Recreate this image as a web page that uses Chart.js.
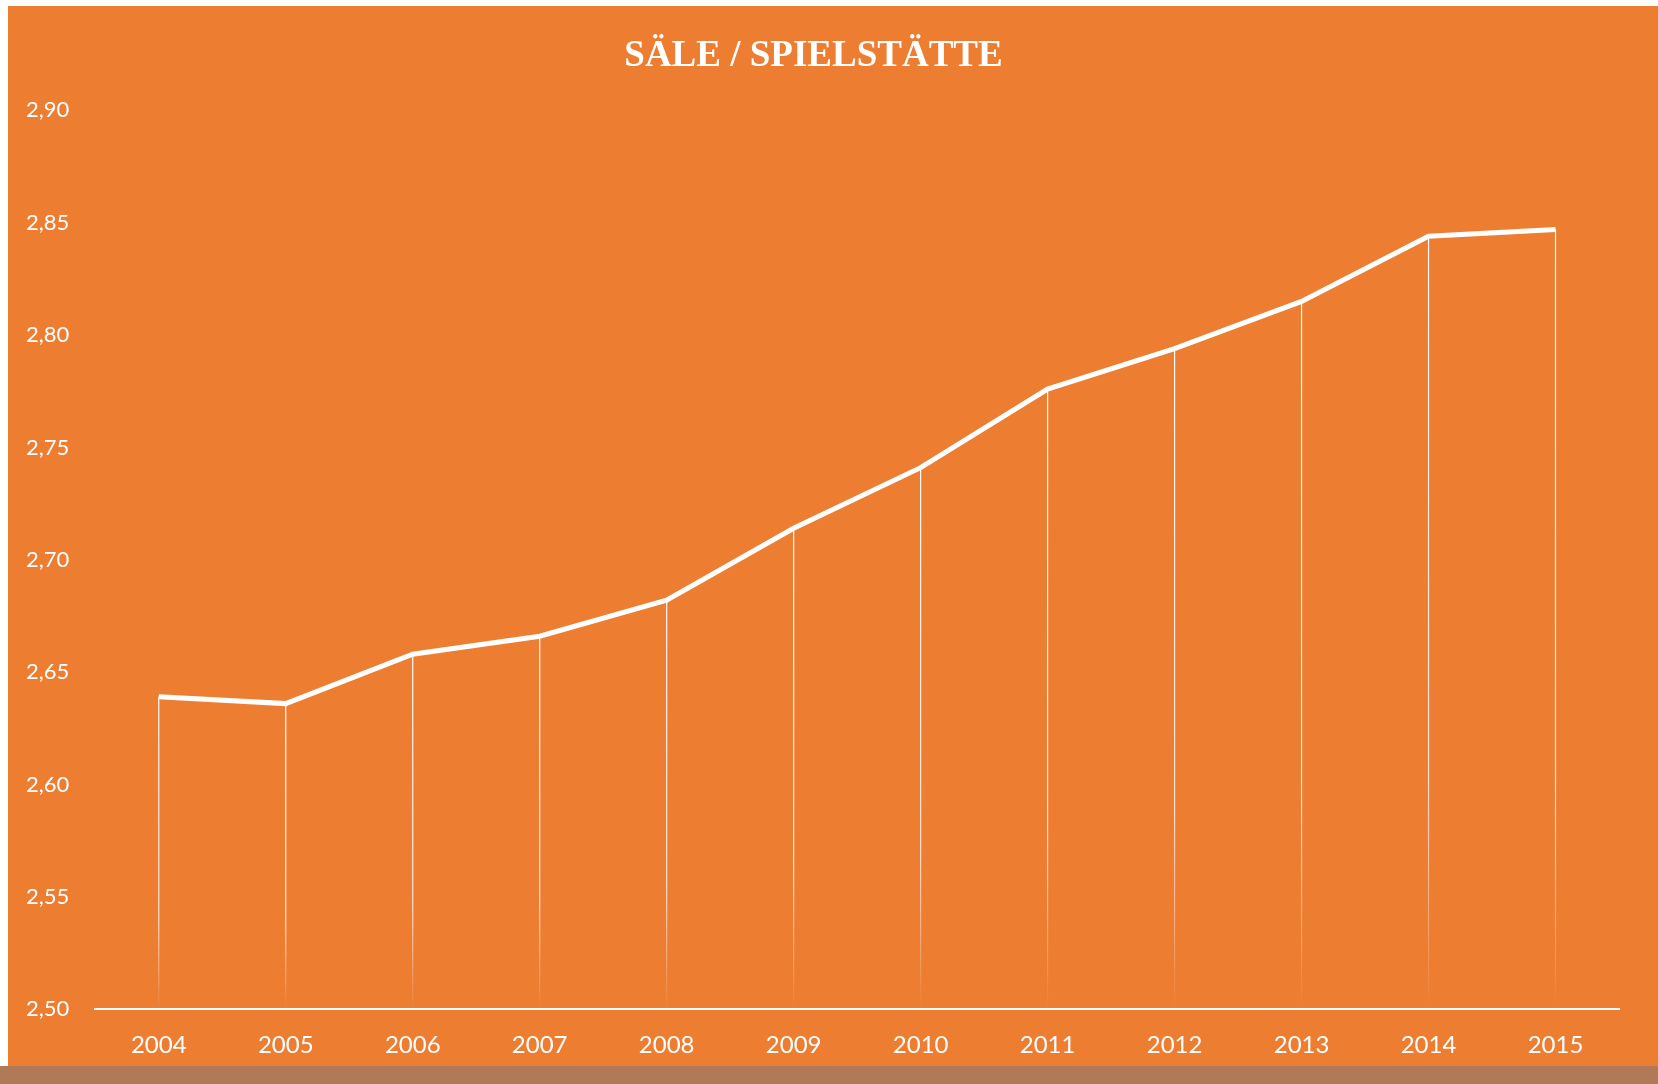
<!DOCTYPE html>
<html><head><meta charset="utf-8">
<script src="https://cdn.jsdelivr.net/npm/chart.js@4/dist/chart.umd.min.js"></script>
<style>
html,body{margin:0;padding:0;background:#fff;width:1658px;height:1084px;overflow:hidden}
#wrap{position:absolute;left:8px;top:6px;width:1650px;height:1078px;background:#ED7D31}
#band{position:absolute;left:0;top:1066px;width:1658px;height:18px;background:#b07a58}
canvas{position:absolute;left:0;top:0}
</style></head><body>
<div id="wrap"><canvas id="c" width="1650" height="1078"></canvas></div>
<div id="band"></div>
<script>
const years=["2004","2005","2006","2007","2008","2009","2010","2011","2012","2013","2014","2015"];
const values=[2.639,2.636,2.658,2.666,2.682,2.714,2.741,2.776,2.794,2.815,2.844,2.847];
const title="SÄLE / SPIELSTÄTTE";
const dropLines={id:'drop',beforeDatasetsDraw(ch){
  const {ctx,chartArea}=ch;const m=ch.getDatasetMeta(0);
  ctx.save();
  m.data.forEach(p=>{
    const g=ctx.createLinearGradient(0,p.y,0,chartArea.bottom);
    g.addColorStop(0,'rgba(255,255,255,1)');g.addColorStop(0.7,'rgba(255,255,255,0.8)');g.addColorStop(1,'rgba(255,255,255,0)');
    ctx.strokeStyle=g;ctx.lineWidth=1.2;ctx.beginPath();ctx.moveTo(p.x,p.y);ctx.lineTo(p.x,chartArea.bottom);ctx.stroke();
  });ctx.restore();}};
new Chart(document.getElementById('c'),{type:'line',
 data:{labels:years,datasets:[{data:values,borderColor:'#fff',borderWidth:5,pointRadius:0,tension:0}]},
 plugins:[dropLines],
 options:{responsive:false,animation:false,
  layout:{padding:{left:0,right:39,top:0,bottom:10}},
  plugins:{legend:{display:false},tooltip:{enabled:false},
   title:{display:true,text:title,color:'#fff',font:{family:'Liberation Serif',size:37,weight:'bold'},padding:{top:28,bottom:32}}},
  scales:{
   x:{offset:true,grid:{display:false},border:{color:'#fff',width:2},
      ticks:{color:'#fff',font:{family:'Lato',size:24},padding:14}},
   y:{min:2.5,max:2.9,grid:{display:false},border:{display:false},
      ticks:{stepSize:0.05,color:'#fff',font:{family:'Lato',size:22},padding:18,
        callback:v=>v.toFixed(2).replace('.',',')}}}}});
</script></body></html>
